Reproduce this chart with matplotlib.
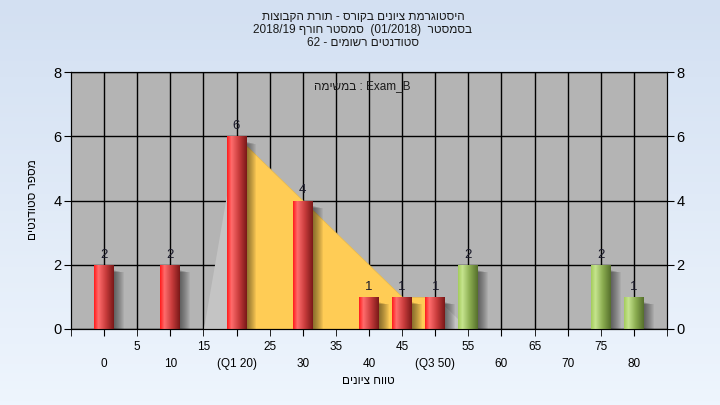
import numpy as np
import matplotlib
matplotlib.use("Agg")
import matplotlib.pyplot as plt
from matplotlib.colors import LinearSegmentedColormap

plt.rcParams["font.family"] = ["Liberation Sans", "DejaVu Sans"]


def rev(s):
    # matplotlib has no bidi support, so hebrew is written in visual order
    return s[::-1]


# grade bins and number of students in each
grades = [0, 5, 10, 15, 20, 25, 30, 35, 40, 45, 50, 55, 60, 65, 70, 75, 80]
tick_labels = ["0", "5", "10", "15", "(Q1 20)", "25", "30", "35", "40", "45",
               "(Q3 50)", "55", "60", "65", "70", "75", "80"]
counts = [2, 0, 2, 0, 6, 0, 4, 0, 1, 1, 1, 2, 0, 0, 0, 2, 1]
pass_grade = 55

# background distribution shape, the yellow part is Q1..Q3
curve_grades = [15, 20, 45, 50, 55]
curve_vals = [0, 6, 1, 1, 0]
q1, q3 = 20, 50

title_lines = [
    rev("היסטוגרמת ציונים בקורס - תורת הקבוצות"),
    "2018/19 " + rev("סמסטר חורף") + "  (01/2018)  " + rev("בסמסטר"),
    "62 - " + rev("סטודנטים רשומים"),
]
task_label = rev("במשימה") + " : Exam_B"
x_title = rev("טווח ציונים")
y_title = rev("מספר סטודנטים")

red_cmap = LinearSegmentedColormap.from_list(
    "red_cyl", [(0, "#ff1c1c"), (0.22, "#ff6c6c"), (0.6, "#c83c3c"), (1, "#7a1818")])
green_cmap = LinearSegmentedColormap.from_list(
    "green_cyl", [(0, "#a4cc5c"), (0.22, "#c6e48e"), (0.6, "#8aac50"), (1, "#56702c")])

fig = plt.figure(figsize=(7.2, 4.05), dpi=100)

# light blue gradient background
bg = fig.add_axes([0, 0, 1, 1], zorder=-5)
bg.imshow(np.linspace(0, 1, 100).reshape(-1, 1), cmap=LinearSegmentedColormap.from_list(
    "bg", ["#d3e0f2", "#eef5fd"]), aspect="auto", extent=[0, 1, 0, 1])
bg.axis("off")

ax = fig.add_axes([71 / 720, 1 - 329 / 405, 596 / 720, 257 / 405])
ax.set_facecolor("#b4b4b4")

# grid under everything
for g in grades:
    ax.axvline(g, color="black", lw=1, zorder=0.5)
for yv in range(0, 9, 2):
    ax.axhline(yv, color="black", lw=1, zorder=0.5)

ax.fill_between(curve_grades, curve_vals, color="#c4c4c4", lw=0, zorder=1)
qx = [g for g in curve_grades if q1 <= g <= q3]
qy = [v for g, v in zip(curve_grades, curve_vals) if q1 <= g <= q3]
ax.fill_between(qx, qy, color="#ffcc55", lw=0.5, edgecolor="#e8b848", zorder=1.2)

width = 3.0
grad = np.linspace(0, 1, 64).reshape(1, -1)
for g, c in zip(grades, counts):
    if c == 0:
        continue
    # soft drop shadow, stacked thin layers
    for off in np.linspace(0.15, 1.5, 10):
        ax.bar(g + off, c - 0.1 - off * 0.05, bottom=-0.06, width=width,
               color="black", alpha=0.055, lw=0, zorder=2)
    bar = ax.bar(g, c, width=width, color="none", lw=0, zorder=3)[0]
    cmap = green_cmap if g >= pass_grade else red_cmap
    im = ax.imshow(grad, cmap=cmap, aspect="auto", zorder=3,
                   extent=[g - width / 2, g + width / 2, 0, c])
    im.set_clip_path(bar)
    ax.annotate(str(c), (g, c), xytext=(0, 3), textcoords="offset points",
                ha="center", va="bottom", fontsize=9.5, color="#1a1a2a", zorder=4)

ax.set_xlim(-5, 85)
ax.set_ylim(0, 8)

ax.set_xticks(grades[::2])
ax.set_xticklabels(tick_labels[::2])
ax.set_xticks([-5] + grades[1::2] + [85], minor=True)
ax.set_xticklabels([""] + tick_labels[1::2] + [""], minor=True)
ax.tick_params(axis="x", which="major", length=5, pad=16, labelsize=8.5)
ax.tick_params(axis="x", which="minor", length=5, pad=3.5, labelsize=8.5)

ax.set_yticks(range(0, 9, 2))
ax.tick_params(axis="y", length=5, labelsize=10.5, pad=2)
for s in ax.spines.values():
    s.set_color("black")

ax2 = ax.twinx()
ax2.set_ylim(0, 8)
ax2.set_yticks(range(0, 9, 2))
ax2.tick_params(axis="y", length=5, labelsize=10.5, pad=2)

ax.text(0.488, 0.946, task_label, transform=ax.transAxes, ha="center",
        va="center", fontsize=8.5, color="#1a1a1a", zorder=5)

for i, line in enumerate(title_lines):
    fig.text(0.504, 0.958 - i * 0.032, line, ha="center", va="center",
             fontsize=8.5, color="#1a1a1a")
fig.text(0.511, 0.059, x_title, ha="center", va="center", fontsize=8.5)
fig.text(0.046, 0.506, y_title, ha="center", va="center", rotation=90, fontsize=8.5)

fig.savefig("out.png", dpi=100)
